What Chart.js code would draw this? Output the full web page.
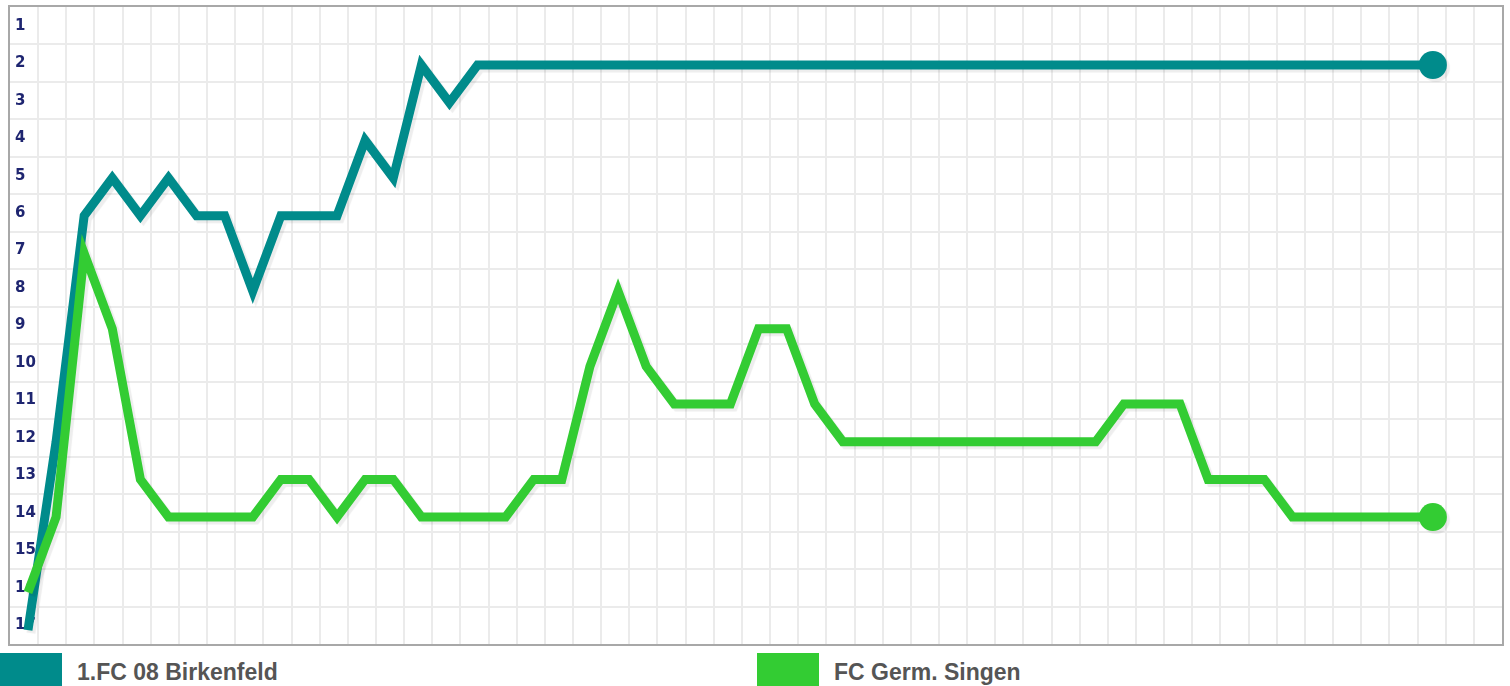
<!DOCTYPE html>
<html>
<head>
<meta charset="utf-8">
<script src="https://cdn.jsdelivr.net/npm/chart.js@4/dist/chart.umd.min.js"></script>
<style>
html, body { margin: 0; padding: 0; background: #fff; overflow: hidden; }
#frame { position: absolute; left: 8px; top: 5px; width: 1492px; height: 637px; border: 2px solid #a8a8a8; }
.item { position: absolute; top: 653px; height: 33px; }
.box { position: absolute; left: 0; top: 0; width: 62px; height: 33px; }
.label { position: absolute; left: 77px; top: 6px; line-height: 23px; font: bold 23px "Liberation Sans", Arial, sans-serif; color: #555; white-space: nowrap; }
</style>
</head>
<body>
<div id="frame"><canvas id="rankChart"></canvas></div>
<div class="item" style="left:0px"><div class="box" style="background:#008b8b"></div><div class="label">1.FC 08 Birkenfeld</div></div>
<div class="item" style="left:757px"><div class="box" style="background:#33cc33"></div><div class="label">FC Germ. Singen</div></div>
<script>
"use strict";

// Spieltage
var rounds = [1, 2, 3, 4, 5, 6, 7, 8, 9, 10, 11, 12, 13, 14, 15, 16, 17, 18, 19, 20,
    21, 22, 23, 24, 25, 26, 27, 28, 29, 30, 31, 32, 33, 34, 35, 36, 37, 38, 39, 40,
    41, 42, 43, 44, 45, 46, 47, 48, 49, 50, 51];

// Tabellenplatz
var birkenfeld = [17, 12, 6, 5, 6, 5, 6, 6, 8, 6, 6, 6, 4, 5, 2, 3, 2, 2, 2, 2,
    2, 2, 2, 2, 2, 2, 2, 2, 2, 2, 2, 2, 2, 2, 2, 2, 2, 2, 2, 2,
    2, 2, 2, 2, 2, 2, 2, 2, 2, 2, 2];
var singen = [16, 14, 7, 9, 13, 14, 14, 14, 14, 13, 13, 14, 13, 13, 14, 14, 14, 14, 13, 13,
    10, 8, 10, 11, 11, 11, 9, 9, 11, 12, 12, 12, 12, 12, 12, 12, 12, 12, 12, 11,
    11, 11, 13, 13, 13, 14, 14, 14, 14, 14, 14];

var rankTicks = [1, 2, 3, 4, 5, 6, 7, 8, 9, 10, 11, 12, 13, 14, 15, 16, 17];
var rowLines = [1.5, 2.5, 3.5, 4.5, 5.5, 6.5, 7.5, 8.5, 9.5, 10.5, 11.5, 12.5, 13.5, 14.5, 15.5, 16.5];

var teal = "#008b8b";
var green = "#33cc33";

function lastPointOnly(size) {
    return function (ctx) {
        return ctx.dataIndex === rounds.length - 1 ? size : 0;
    };
}

// axes should not take room or push the plot inwards
function noRoom(scale) {
    if (scale.isHorizontal()) scale.height = 0;
    else scale.width = 0;
    scale.paddingTop = 0;
    scale.paddingBottom = 0;
    scale.paddingLeft = 0;
    scale.paddingRight = 0;
}

var lineShadow = {
    id: "lineShadow",
    beforeDatasetDraw: function (chart) {
        var c = chart.ctx;
        c.save();
        c.shadowColor = "rgba(0,0,0,0.07)";
        c.shadowOffsetX = 3;
        c.shadowOffsetY = 3;
        c.shadowBlur = 1;
    },
    afterDatasetDraw: function (chart) {
        chart.ctx.restore();
    }
};

var chart = new Chart(document.getElementById("rankChart"), {
    type: "line",
    data: {
        labels: rounds,
        datasets: [{
            label: "1.FC 08 Birkenfeld",
            data: birkenfeld,
            yAxisID: "yd",
            borderColor: teal,
            backgroundColor: teal,
            borderWidth: 9,
            borderJoinStyle: "miter",
            pointRadius: lastPointOnly(14),
            pointHoverRadius: lastPointOnly(14),
            pointBorderWidth: 0,
            tension: 0,
            order: 2
        }, {
            label: "FC Germ. Singen",
            data: singen,
            yAxisID: "yd",
            borderColor: green,
            backgroundColor: green,
            borderWidth: 9,
            borderJoinStyle: "miter",
            pointRadius: lastPointOnly(14),
            pointHoverRadius: lastPointOnly(14),
            pointBorderWidth: 0,
            tension: 0,
            order: 1
        }]
    },
    options: {
        responsive: true,
        maintainAspectRatio: false,
        animation: false,
        layout: { padding: 0, autoPadding: false },
        plugins: {
            legend: { display: false },
            tooltip: { enabled: false }
        },
        scales: {
            x: {
                type: "linear",
                min: 0.36,
                max: 53.46,
                display: false
            },
            xg: {
                type: "linear",
                position: "bottom",
                min: 0,
                max: 53,
                afterBuildTicks: function (scale) {
                    var t = [];
                    for (var i = 1; i < 53; i++) t.push({ value: i });
                    scale.ticks = t;
                },
                afterFit: noRoom,
                ticks: { display: false },
                border: { display: false },
                grid: { color: "#ebebeb", lineWidth: 2, drawTicks: false }
            },
            yd: {
                type: "linear",
                position: "left",
                reverse: true,
                min: 0.46,
                max: 17.37,
                display: false
            },
            yg: {
                type: "linear",
                position: "left",
                reverse: true,
                min: 0.5,
                max: 17.5,
                afterBuildTicks: function (scale) {
                    scale.ticks = rowLines.map(function (v) { return { value: v }; });
                },
                afterFit: noRoom,
                ticks: { display: false },
                border: { display: false },
                grid: { color: "#ebebeb", lineWidth: 2, drawTicks: false }
            },
            y: {
                type: "linear",
                position: "left",
                reverse: true,
                min: 0.5,
                max: 17.5,
                afterBuildTicks: function (scale) {
                    scale.ticks = rankTicks.map(function (v) { return { value: v }; });
                },
                afterFit: noRoom,
                border: { display: false },
                grid: { display: false, drawTicks: false },
                ticks: {
                    mirror: true,
                    padding: 5,
                    color: "#1e2570",
                    font: { family: "'DejaVu Sans'", size: 15, weight: "bold" }
                }
            }
        }
    },
    plugins: [lineShadow]
});
</script>
</body>
</html>
